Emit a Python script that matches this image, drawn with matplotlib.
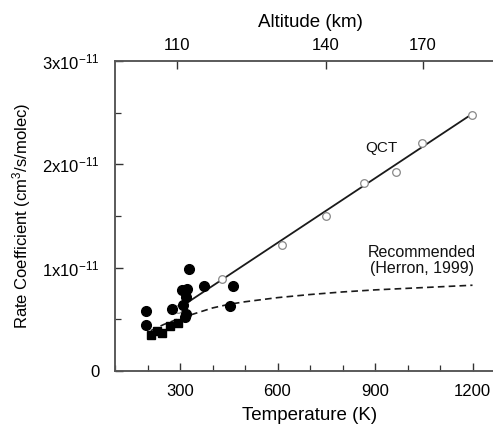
"""Rate coefficient vs temperature: QCT results against the Herron (1999) recommendation."""
import matplotlib
matplotlib.use("Agg")
import matplotlib.pyplot as plt
from matplotlib.ticker import MultipleLocator, FixedLocator

plt.rcParams['font.family'] = ['Liberation Sans', 'DejaVu Sans']
plt.rcParams['mathtext.default'] = 'regular'

# experimental data, filled circles (T in K, k in 1e-11 cm3/s/molec)
exp_circ_T = [195, 195, 274, 305, 321, 317, 310, 329, 374, 318, 315, 454, 464]
exp_circ_k = [0.58, 0.45, 0.60, 0.78, 0.79, 0.72, 0.64, 0.985, 0.82, 0.55, 0.52, 0.63, 0.82]

# experimental data, filled squares
exp_sq_T = [210, 230, 244, 269, 295]
exp_sq_k = [0.35, 0.39, 0.37, 0.44, 0.46]

# QCT points (open circles) and fitted line
qct_T = [295, 428, 613, 749, 866, 965, 1046, 1197]
qct_k = [0.60, 0.89, 1.22, 1.50, 1.82, 1.93, 2.21, 2.48]
qct_line_T = [288, 1200]
qct_line_k = [0.59, 2.49]

# recommended expression (Herron, 1999)
rec_T = [210, 250, 300, 350, 400, 450, 500, 600, 700, 800, 900, 1000, 1100, 1200]
rec_k = [0.39, 0.45, 0.51, 0.56, 0.61, 0.645, 0.67, 0.71, 0.74, 0.765, 0.785, 0.80, 0.815, 0.83]

# y tick values (units of 1e-11) and labels
k_ticks = [0, 1, 2, 3]
k_labels = ['0', '1x10$^{-11}$', '2x10$^{-11}$', '3x10$^{-11}$']

# altitude ticks on the upper axis, placed at the matching temperature
alt_T = [290, 748, 1047]
alt_labels = ['110', '140', '170']

fig = plt.figure(figsize=(4.93, 4.26), dpi=100)
ax = fig.add_axes([115 / 493, 55 / 426, 390 / 493, 310 / 426])

ax.plot(qct_line_T, qct_line_k, color='#1a1a1a', lw=1.3, zorder=2)
ax.plot(rec_T, rec_k, color='#1a1a1a', lw=1.2, ls=(0, (4, 2.5)), zorder=2)
ax.plot(qct_T, qct_k, 'o', ms=5.5, mfc='white', mec='#888888', mew=0.9, zorder=3)
ax.plot(exp_circ_T, exp_circ_k, 'o', ms=7, color='black', zorder=4)
ax.plot(exp_sq_T, exp_sq_k, 's', ms=5.3, color='black', zorder=4)

ax.text(921, 2.16, 'QCT', fontsize=11, ha='center', va='center', color='#111111')
ax.text(1045, 1.07, 'Recommended\n(Herron, 1999)', fontsize=11.5, ha='center', va='center',
        color='#111111', linespacing=1.1)

ax.set_xlim(100, 1300)
ax.set_ylim(0, 3)
ax.xaxis.set_major_locator(FixedLocator([300, 600, 900, 1200]))
ax.xaxis.set_minor_locator(MultipleLocator(100))
ax.yaxis.set_major_locator(FixedLocator(k_ticks))
ax.yaxis.set_minor_locator(MultipleLocator(0.5))
ax.set_yticklabels(k_labels)

ax.tick_params(which='both', direction='in', colors='#333333', labelcolor='black',
               labelsize=12, top=False, right=False)
ax.tick_params(which='major', length=6, width=1)
ax.tick_params(which='minor', length=4, width=0.9)
ax.tick_params(axis='x', which='major', pad=9)
ax.tick_params(axis='y', which='major', pad=11)
for sp in ax.spines.values():
    sp.set_color('#555555')
    sp.set_linewidth(1.1)

ax.set_xlabel('Temperature (K)', fontsize=13.5, labelpad=6)
ax.set_ylabel('Rate Coefficient (cm$^3$/s/molec)', fontsize=12, labelpad=7)

top = ax.twiny()
top.set_xlim(ax.get_xlim())
top.set_xticks(alt_T)
top.set_xticklabels(alt_labels)
top.tick_params(direction='in', length=6, width=1, colors='#333333', labelcolor='black',
                labelsize=12, pad=6)
top.set_xlabel('Altitude (km)', fontsize=13.5, labelpad=8)
for sp in top.spines.values():
    sp.set_color('#555555')
    sp.set_linewidth(1.1)

fig.savefig('out.png', dpi=100)
